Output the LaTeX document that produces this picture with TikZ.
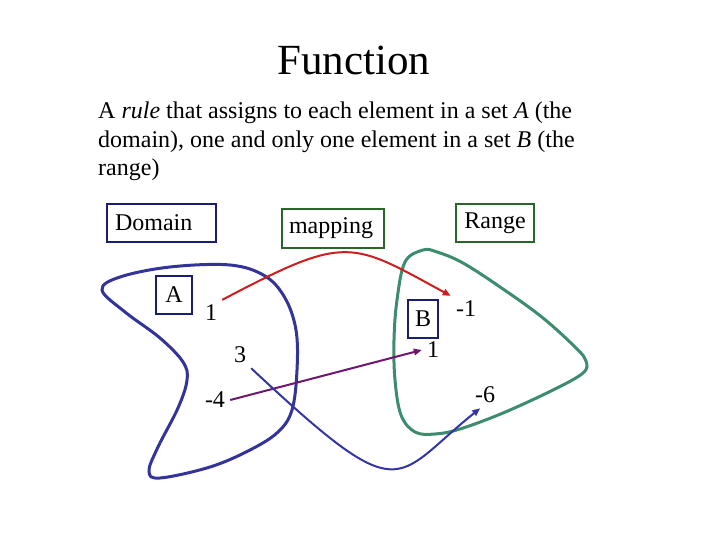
\documentclass[tikz,border=0pt]{standalone}
\usepackage{fontspec}
\setmainfont{Liberation Serif}
\usepackage{xcolor}
\usepackage{tikz}
\usetikzlibrary{arrows.meta,positioning}
\definecolor{navybox}{RGB}{28,28,112}
\definecolor{greenbox}{RGB}{42,102,42}
\definecolor{domblue}{RGB}{51,51,153}
\definecolor{rangegreen}{RGB}{60,140,110}
\definecolor{mapred}{RGB}{204,30,30}
\definecolor{mappurple}{RGB}{112,22,112}
\definecolor{mapblue}{RGB}{52,52,165}

\begin{document}
\begin{tikzpicture}[x=1pt, y=-1pt,
    txt/.style={font=\fontsize{24}{28.5}\selectfont},
    setbox/.style={draw=navybox, line width=2.2pt, minimum height=38pt, inner ysep=0pt, txt},
    rngbox/.style={draw=greenbox, line width=2.2pt, minimum height=38pt, inner ysep=0pt, txt},
    num/.style={inner sep=5pt, txt},
    setline/.style={line width=3pt, smooth cycle, tension=0.6},
    maparrow/.style={line width=2pt, -{Triangle[length=8pt,width=6.5pt]}}
]
\useasboundingbox (0,0) rectangle (720,540);

\node[font=\fontsize{43}{50}\selectfont] (title) at (354,60) {Function};
\node[txt, anchor=north west, inner sep=0pt, align=left] (rule) at (98,102)
  {A \textit{rule} that assigns to each element in a set \textit{A} (the\\
   domain), one and only one element in a set \textit{B} (the\\
   range)};

\node[setbox, text width=93pt, inner xsep=8pt, align=left] (domain) at (161.5,223) {Domain};
\node[rngbox, text width=88pt, inner xsep=7pt, align=left, minimum height=39pt] (mapping) at (333,228.5) {mapping};
\node[rngbox, minimum width=78pt] (range) at (495,223) {Range};
\node[setbox, minimum width=36pt, inner xsep=0pt] (setA) at (174,295) {A};
\node[setbox, minimum width=30pt, inner xsep=0pt] (setB) at (423,319) {B};

\draw[domblue, setline] plot coordinates {(102,290) (125,312) (160,338) (183,362) (187,380)
  (178,408) (158,447) (149,471) (160,478) (210,467) (250,450) (278,432) (292,410) (297,370)
  (296,330) (285,298) (265,276) (230,265) (170,267) (120,277)};
\draw[rangegreen, setline] plot coordinates {(423,250) (405,262) (397,300) (394,340) (395,380)
  (401,415) (415,432) (435,434) (460,429) (503,413) (553,390) (583,373) (586,361) (576,348)
  (543,318) (503,289) (463,263) (437,252)};

\node[num] (a1) at (211,313) {1};
\node[num] (a3) at (240,355) {3};
\node[num] (a4) at (215,400) {-4};
\node[num] (bm1) at (466,309) {-1};
\node[num] (b1) at (433,350) {1};
\node[num] (bm6) at (485,395) {-6};

\draw[maparrow, mapred] (a1.north east) .. controls (347,234) and (350,241) .. (bm1.north west);
\draw[maparrow, mappurple] (a4.east) -- (b1.west);
\draw[maparrow, mapblue] (a3.south east) .. controls (405,512) and (392,479) .. (bm6.250);
\end{tikzpicture}
\end{document}
